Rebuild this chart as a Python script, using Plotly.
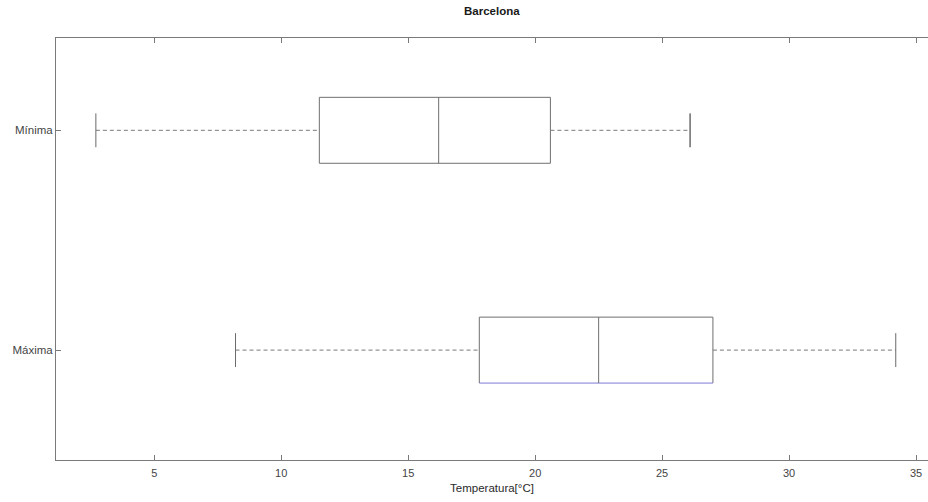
import plotly.graph_objects as go

# Box-plot statistics (°C) for Barcelona daily temperatures
categories = ["Máxima", "Mínima"]
lower_whisker = [8.2, 2.7]
q1 = [17.8, 11.5]
median = [22.5, 16.2]
q3 = [27.0, 20.6]
upper_whisker = [34.2, 26.1]

x_ticks = [5, 10, 15, 20, 25, 30, 35]

BOX_HALF = 0.15
CAP_HALF = 0.077
BOX_COLOR = "#6f6f6f"
EDGE_BLUE = "#7b7bd8"

fig = go.Figure()

for i, name in enumerate(categories):
    y0 = i + 1
    top, bot = y0 + BOX_HALF, y0 - BOX_HALF
    # box outline (top, sides); bottom edge drawn separately
    fig.add_trace(go.Scatter(
        x=[q1[i], q1[i], q3[i], q3[i]],
        y=[bot, top, top, bot],
        mode="lines", line=dict(color=BOX_COLOR, width=1),
        hoverinfo="skip", showlegend=False))
    fig.add_trace(go.Scatter(
        x=[q1[i], q3[i]], y=[bot, bot],
        mode="lines",
        line=dict(color=EDGE_BLUE if i == 0 else BOX_COLOR, width=1),
        hoverinfo="skip", showlegend=False))
    # median
    fig.add_trace(go.Scatter(
        x=[median[i], median[i]], y=[bot, top],
        mode="lines", line=dict(color=BOX_COLOR, width=1),
        hoverinfo="skip", showlegend=False))
    # dashed whiskers
    for a, b in ((lower_whisker[i], q1[i]), (q3[i], upper_whisker[i])):
        fig.add_trace(go.Scatter(
            x=[a, b], y=[y0, y0],
            mode="lines", line=dict(color="#7a7a7a", width=1, dash="4px,3px"),
            hoverinfo="skip", showlegend=False))
    # whisker caps
    for xv, col in ((lower_whisker[i], "#6a6a6a"),
                    (upper_whisker[i], "#222222" if i == 1 else "#6a6a6a")):
        fig.add_trace(go.Scatter(
            x=[xv, xv], y=[y0 - CAP_HALF, y0 + CAP_HALF],
            mode="lines", line=dict(color=col, width=1),
            hoverinfo="skip", showlegend=False))

fig.update_layout(
    width=928, height=502,
    margin=dict(l=56, r=0, t=38, b=42),
    paper_bgcolor="white", plot_bgcolor="white",
    font=dict(family="Liberation Sans, Arial, sans-serif", color="#3a3a3a", size=11),
    title=dict(text="<b>Barcelona</b>", x=0.53, xanchor="center",
               y=0.978, yanchor="middle",
               font=dict(size=11.5, color="#1a1a1a")),
    xaxis=dict(
        range=[1.13, 35.47], tickvals=x_ticks,
        ticks="inside", ticklen=5, tickcolor="#7a7a7a",
        showline=True, linecolor="#7a7a7a", linewidth=1, mirror="ticks",
        showgrid=False, zeroline=False, ticklabelstandoff=3,
        title=dict(text="Temperatura[°C]", standoff=5,
                   font=dict(size=11.5, color="#2a2a2a")),
        tickfont=dict(size=11, color="#444444"),
    ),
    yaxis=dict(
        range=[0.5, 2.42], tickvals=[1, 2], ticktext=categories,
        ticks="inside", ticklen=5, tickcolor="#7a7a7a",
        showline=True, linecolor="#7a7a7a", linewidth=1,
        showgrid=False, zeroline=False,
        tickfont=dict(size=11.5, color="#444444"),
    ),
)

fig.write_html("out.html")
